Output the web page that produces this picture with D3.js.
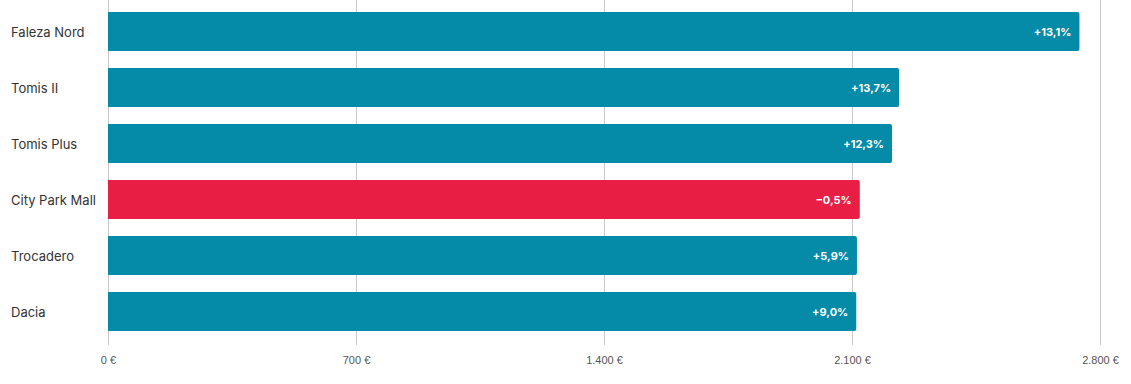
<!DOCTYPE html>
<html>
<head>
<meta charset="utf-8">
<script src="https://cdn.jsdelivr.net/npm/d3@7"></script>
<style>
  body { margin: 0; background: #fff; }
  svg { display: block; font-family: Inter, "Noto Sans", sans-serif; }
  .cat { font-size: 13px; fill: #333; }
  .val { font-size: 11px; font-weight: 700; fill: #fff; }
  .tick text { font-size: 11px; fill: #555; }
</style>
</head>
<body>
<script>
const categories = ["Faleza Nord", "Tomis II", "Tomis Plus", "City Park Mall", "Trocadero", "Dacia"];
const prices = [2742, 2233, 2213, 2122, 2114, 2112];
const changes = [13.1, 13.7, 12.3, -0.5, 5.9, 9.0];
const ticks = [0, 700, 1400, 2100, 2800];

const WIDTH = 1131;
const HEIGHT = 384;
const MARGIN = { left: 108, right: 31, top: 12, bottom: 53 };
const BAR_STEP = 56;
const BAR_HEIGHT = 39;
const TEAL = "#058ba8";
const RED = "#e91e45";

const svg = d3.select("body").append("svg")
  .attr("width", WIDTH)
  .attr("height", HEIGHT);

const x = d3.scaleLinear()
  .domain([0, 2800])
  .range([MARGIN.left, WIDTH - MARGIN.right]);

const y = d3.scaleBand()
  .domain(categories)
  .range([MARGIN.top - (BAR_STEP - BAR_HEIGHT) / 2, MARGIN.top - (BAR_STEP - BAR_HEIGHT) / 2 + BAR_STEP * categories.length])
  .paddingInner((BAR_STEP - BAR_HEIGHT) / BAR_STEP)
  .paddingOuter((BAR_STEP - BAR_HEIGHT) / BAR_STEP / 2);

const axisY = 345;

// grid lines
svg.append("g")
  .selectAll("line")
  .data(ticks)
  .enter().append("line")
  .attr("x1", d => Math.round(x(d)) + 0.5)
  .attr("x2", d => Math.round(x(d)) + 0.5)
  .attr("y1", 0)
  .attr("y2", axisY)
  .attr("stroke", "#c8c8c8")
  .attr("stroke-width", 1);

// x axis labels
const fmt = d3.formatLocale({ decimal: ",", thousands: ".", grouping: [3], currency: ["", " €"] }).format("$,.0f");
svg.append("g")
  .attr("transform", `translate(0,${axisY})`)
  .call(d3.axisBottom(x).tickValues(ticks).tickFormat(fmt).tickSize(0).tickPadding(11))
  .call(g => g.select(".domain").remove());

const data = categories.map((c, i) => ({ name: c, price: prices[i], change: changes[i] }));

// bars
svg.append("g")
  .selectAll("path")
  .data(data)
  .enter().append("path")
  .attr("d", d => {
    const x0 = x(0), x1 = x(d.price), y0 = y(d.name), h = y.bandwidth(), r = 2;
    return `M${x0},${y0}H${x1 - r}Q${x1},${y0} ${x1},${y0 + r}V${y0 + h - r}Q${x1},${y0 + h} ${x1 - r},${y0 + h}H${x0}Z`;
  })
  .attr("fill", d => d.change < 0 ? RED : TEAL);

// value labels
const pct = d => (d < 0 ? "−" : "+") + Math.abs(d).toFixed(1).replace(".", ",") + "%";
svg.append("g")
  .selectAll("text")
  .data(data)
  .enter().append("text")
  .attr("class", "val")
  .attr("x", d => x(d.price) - 8)
  .attr("y", d => y(d.name) + y.bandwidth() / 2 + 0.5)
  .attr("dy", "0.35em")
  .attr("text-anchor", "end")
  .text(d => pct(d.change));

// category labels
svg.append("g")
  .selectAll("text")
  .data(data)
  .enter().append("text")
  .attr("class", "cat")
  .attr("x", 11)
  .attr("y", d => y(d.name) + y.bandwidth() / 2 + 1)
  .attr("dy", "0.35em")
  .text(d => d.name);
</script>
</body>
</html>
